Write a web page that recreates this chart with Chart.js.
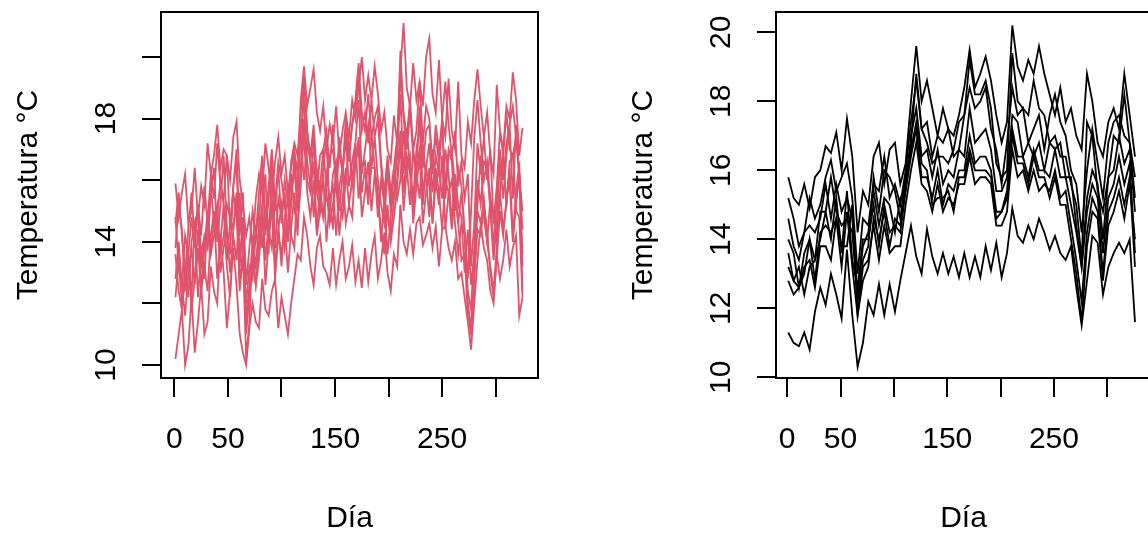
<!DOCTYPE html>
<html>
<head>
<meta charset="utf-8">
<script src="https://cdn.jsdelivr.net/npm/chart.js@4.4.1/dist/chart.umd.min.js"></script>
<style>
html,body{margin:0;padding:0;overflow:hidden;background:#fff;width:1148px;height:534px;}
canvas{position:absolute;top:0;}
#c1{left:0;}
#c2{left:574px;}
</style>
</head>
<body>
<canvas id="c1" width="574" height="534"></canvas>
<canvas id="c2" width="600" height="534"></canvas>
<script>
// ---- categories: days (left panel, raw series) ----
const daysRaw = [1,4,7,10,13,16,19,22,25,28,
  31,34,37,40,43,46,49,52,55,58,
  61,64,67,70,73,76,79,82,85,88,
  91,94,97,100,103,106,109,112,115,118,
  121,124,127,130,133,136,139,142,145,148,
  151,154,157,160,163,166,169,172,175,178,
  181,184,187,190,193,196,199,202,205,208,
  211,214,217,220,223,226,229,232,235,238,
  241,244,247,250,253,256,259,262,265,268,
  271,274,277,280,283,286,289,292,295,298,
  301,304,307,310,313,316,319,322,325];

// ---- categories: days (right panel, smoothed series) ----
const daysSm = [1,6,11,16,21,26,31,36,41,46,
  51,56,61,66,71,76,81,86,91,96,
  101,106,111,116,121,126,131,136,141,146,
  151,156,161,166,171,176,181,186,191,196,
  201,206,211,216,221,226,231,236,241,246,
  251,256,261,266,271,276,281,286,291,296,
  301,306,311,316,321,326];

// ---- left panel: raw temperatures (°C) ----
const rawA = [15.9,14.8,15.6,16.2,14.6,15.0,16.4,14.8,15.8,15.2,
  17.2,16.2,16.8,17.8,16.4,17.0,16.8,16.0,17.4,17.9,
  16.0,15.2,14.2,14.8,13.8,15.4,16.2,15.6,17.2,16.4,
  15.4,16.6,17.4,16.2,16.8,15.6,16.4,17.0,16.2,18.6,
  19.7,18.4,19.0,19.6,18.2,17.6,18.4,17.0,17.8,17.2,
  18.4,16.8,17.6,18.2,17.4,18.6,18.0,19.0,20.0,18.6,
  19.4,18.6,19.7,18.8,17.6,18.2,17.0,16.6,18.1,17.2,
  19.6,21.1,19.0,18.4,19.8,18.6,19.2,18.4,20.0,20.6,
  18.8,18.2,19.9,18.0,17.4,19.3,17.6,17.0,19.2,16.8,
  16.4,17.9,17.2,18.6,19.6,18.4,17.4,18.2,16.8,16.2,
  19.1,17.6,17.0,18.4,18.0,19.5,18.6,16.8,17.7];
const rawB = [14.6,15.6,14.2,13.0,14.4,15.6,14.0,15.2,14.2,15.8,
  14.6,16.2,15.4,17.2,15.8,15.4,16.8,14.4,15.8,17.0,
  14.2,15.6,12.6,13.8,15.0,14.2,15.6,16.8,14.6,15.8,
  17.0,15.0,16.4,14.6,16.0,15.2,16.6,17.2,16.8,18.2,
  19.4,17.6,16.8,17.8,16.2,15.8,17.0,17.6,16.4,17.8,
  15.6,17.0,16.2,17.6,16.6,17.8,18.4,19.4,17.6,18.2,
  17.2,18.6,17.4,18.0,16.4,15.4,16.8,15.6,16.4,17.4,
  19.4,18.0,17.0,18.2,16.8,16.2,18.4,16.4,17.6,17.8,
  16.6,17.4,16.6,18.0,19.2,17.8,16.8,17.6,15.8,16.6,
  15.4,16.2,13.2,14.6,17.2,16.2,17.4,16.0,17.0,14.6,
  15.8,17.6,16.8,18.2,17.0,16.8,17.4,16.2,15.0];
const rawC = [13.8,15.2,14.4,12.4,13.6,14.8,13.8,15.2,13.6,14.2,
  13.8,15.6,16.4,14.0,15.2,16.8,14.4,13.6,15.8,16.6,
  13.4,14.8,11.0,12.4,13.6,14.4,13.6,15.2,16.2,13.6,
  16.6,13.8,15.4,14.8,15.6,14.0,15.2,16.8,15.4,17.6,
  18.6,16.6,15.8,17.2,15.6,15.0,16.4,17.4,14.8,16.2,
  16.6,15.0,16.2,17.4,15.8,16.6,17.2,18.6,16.2,17.0,
  17.8,16.4,17.4,16.0,15.2,14.6,16.4,15.0,15.6,16.8,
  18.8,16.2,17.6,16.4,15.4,17.0,17.8,15.6,16.4,17.2,
  15.6,16.8,16.2,18.0,15.4,16.8,17.0,15.8,14.6,15.6,
  14.2,12.4,11.8,13.8,16.0,15.2,16.6,16.4,15.0,13.4,
  14.6,16.6,15.4,16.8,17.8,15.4,17.8,16.2,13.6];
const rawD = [14.8,13.2,12.6,14.2,13.6,12.2,14.6,15.0,12.4,13.8,
  15.0,13.8,14.6,15.2,13.6,14.2,15.2,14.8,14.4,15.6,
  12.6,13.8,12.0,13.2,12.8,14.2,15.0,13.8,15.0,14.4,
  13.8,15.4,14.6,13.2,14.8,15.4,14.2,13.8,16.2,17.4,
  16.0,17.2,16.6,14.8,16.4,15.2,14.8,16.2,15.4,14.4,
  16.6,15.2,14.8,16.0,17.2,15.8,16.6,17.4,15.6,16.4,
  15.2,17.6,16.4,14.8,16.0,15.2,13.6,14.8,16.4,15.4,
  16.0,17.6,16.4,15.2,17.0,16.2,15.4,17.2,16.0,14.8,
  17.0,15.8,16.4,15.4,17.0,16.2,14.6,16.2,15.2,14.8,
  13.0,14.4,12.6,13.6,15.2,16.8,14.8,14.0,15.4,14.8,
  14.0,15.6,16.8,15.2,16.6,16.8,15.0,14.8,12.2];
const rawE = [12.8,14.0,12.6,11.6,13.0,13.8,12.6,13.8,12.4,13.2,
  12.4,14.2,15.0,12.8,14.0,15.2,13.2,12.2,14.4,15.4,
  12.4,13.6,10.2,11.4,13.8,12.6,13.4,15.0,12.6,14.0,
  15.2,12.8,14.2,13.6,14.6,13.0,14.4,15.6,14.2,16.4,
  17.4,15.6,14.8,16.0,14.2,15.0,16.2,14.0,15.4,15.8,
  14.2,15.8,16.4,14.6,15.2,14.8,16.6,17.0,14.8,15.6,
  16.6,15.0,16.2,15.4,14.4,13.6,15.2,14.0,14.8,15.8,
  17.2,15.0,16.4,16.8,14.6,15.8,16.8,14.6,15.6,16.4,
  14.6,16.0,15.2,16.8,14.4,15.6,16.0,14.6,13.6,14.6,
  14.2,12.0,11.2,12.8,15.0,14.6,15.4,14.0,13.2,12.4,
  13.8,15.6,14.4,15.2,16.4,14.2,15.6,16.6,12.4];
const rawF = [12.2,13.4,12.0,12.6,13.6,11.8,12.8,14.4,13.2,14.0,
  13.8,15.8,14.6,14.8,16.0,15.2,13.4,14.6,15.6,14.8,
  13.2,14.6,11.4,12.6,14.0,13.2,14.6,16.4,14.2,15.4,
  16.8,15.2,16.6,16.0,15.2,14.0,15.4,16.4,15.0,16.2,
  19.4,17.6,16.6,17.6,15.6,16.8,17.0,15.8,16.8,17.0,
  16.0,17.4,16.2,18.0,17.0,17.8,18.6,19.8,18.2,17.6,
  18.8,17.4,18.0,18.4,16.6,15.6,16.6,15.4,16.2,17.0,
  20.2,18.2,17.4,18.6,17.0,17.6,19.2,17.2,18.4,18.0,
  16.2,17.8,17.0,17.8,15.8,17.0,16.6,15.0,16.4,15.8,
  14.4,12.8,15.0,17.4,18.6,17.2,16.0,16.6,15.4,13.8,
  15.4,17.0,16.0,17.2,17.8,18.4,17.4,16.2,14.4];
const rawG = [13.6,12.4,11.8,13.2,12.2,14.0,14.6,12.2,13.6,12.8,
  14.8,13.6,14.2,14.8,13.0,13.8,14.4,13.0,14.2,13.4,
  15.6,13.8,11.2,12.2,13.4,12.6,14.0,15.2,13.4,14.6,
  15.4,13.2,14.4,15.2,13.8,14.6,16.2,15.0,14.6,15.8,
  18.0,16.0,15.6,16.6,14.4,15.8,14.8,15.6,14.6,15.2,
  16.0,14.2,15.4,16.4,15.2,16.0,17.2,15.4,16.4,16.6,
  15.4,16.4,16.4,15.6,14.0,15.4,14.8,14.2,15.4,16.0,
  17.6,15.6,16.8,16.2,15.0,16.4,17.0,15.2,16.4,15.8,
  14.6,16.4,15.6,14.4,16.0,15.6,14.4,15.6,14.6,13.4,
  13.6,11.6,11.0,12.8,14.4,14.2,15.2,14.4,13.0,12.2,
  13.4,15.0,14.2,15.4,16.0,14.0,15.2,16.2,13.2];
const rawH = [10.2,11.0,11.8,10.0,10.6,12.2,10.4,11.4,12.6,11.0,
  11.4,13.2,12.4,12.0,14.2,13.0,11.2,12.4,13.8,12.6,
  11.0,10.4,10.0,11.2,12.0,11.4,11.2,12.8,11.8,11.6,
  12.4,12.8,11.2,12.2,11.6,11.0,12.0,12.8,13.6,13.4,
  14.8,14.2,13.2,12.6,13.8,14.2,13.2,13.0,12.6,13.8,
  12.6,13.4,14.0,12.8,13.2,13.9,12.7,13.4,12.5,13.8,
  12.7,13.6,14.2,12.8,13.4,14.3,13.0,12.4,13.6,13.2,
  15.2,14.0,13.6,14.4,13.6,14.6,14.8,13.9,14.2,14.6,
  13.8,14.5,13.2,14.4,14.5,13.8,13.4,14.0,12.8,13.0,
  12.2,11.4,10.5,12.0,13.4,14.6,13.8,13.4,12.4,12.0,
  13.6,12.8,13.4,14.4,13.2,13.8,14.2,11.6,12.2];

// ---- right panel: smoothed temperatures (°C) ----
const smA = [15.8,15.2,15.0,15.6,14.9,15.8,16.0,16.7,16.5,17.1,
  16.0,17.5,16.4,14.2,15.4,15.0,16.4,16.8,15.6,16.6,
  16.8,15.6,16.2,18.0,19.6,18.0,18.6,17.8,17.0,17.8,
  17.2,17.0,17.6,18.4,19.5,18.4,18.8,19.3,18.6,17.6,
  16.8,17.4,20.2,19.0,18.6,19.2,18.8,19.6,18.8,18.2,
  17.6,18.4,17.4,17.8,17.0,16.6,18.8,18.0,16.8,16.4,
  17.4,17.8,17.2,18.8,17.6,16.4];
const smB = [15.2,14.6,13.8,14.2,15.2,14.6,15.0,15.8,16.3,15.4,
  15.8,16.2,15.2,13.0,14.6,14.4,15.6,15.4,16.4,15.2,
  15.6,15.0,16.0,17.4,18.6,17.2,17.4,16.4,17.0,16.8,
  17.2,16.4,16.6,17.6,18.4,17.8,18.0,18.4,17.2,16.6,
  15.6,16.8,18.4,17.6,17.8,16.8,17.2,17.6,16.6,17.6,
  18.2,17.4,17.0,16.0,15.6,14.2,16.0,17.2,16.2,15.2,
  16.8,17.4,17.6,17.0,16.8,15.8];
const smC = [14.6,13.8,13.4,14.2,14.4,14.2,14.6,15.6,14.6,15.6,
  14.8,15.2,14.6,12.4,13.8,14.2,15.4,14.4,15.2,15.0,
  14.2,15.2,15.4,17.0,17.8,16.4,16.6,15.8,16.6,15.6,
  16.0,15.8,16.6,16.4,17.8,16.8,17.0,17.2,16.6,15.4,
  15.4,15.8,17.6,17.4,16.4,16.8,16.4,16.8,16.0,16.8,
  16.6,16.8,15.8,15.8,14.4,13.2,15.2,16.0,15.6,14.0,
  15.8,16.0,17.0,16.2,16.6,14.8];
const smD = [14.0,13.6,12.6,13.6,14.0,13.4,14.0,14.8,14.0,15.2,
  13.6,15.4,13.4,12.6,14.0,14.0,15.0,13.8,15.0,14.2,
  14.4,14.2,15.4,16.4,17.2,15.8,15.8,15.2,16.0,15.0,
  15.6,15.4,16.0,16.0,17.0,16.2,16.4,16.4,16.0,14.8,
  14.8,15.2,17.2,16.4,16.4,15.8,16.6,16.0,16.0,15.8,
  16.6,15.8,15.8,15.0,14.2,13.2,14.8,15.6,15.2,13.6,
  15.2,15.6,16.4,15.6,16.2,13.6];
const smE = [13.6,12.8,12.6,13.2,13.4,12.6,13.8,13.8,13.4,14.6,
  13.2,14.8,13.2,11.8,13.2,13.4,14.4,13.4,14.4,13.6,
  13.8,13.8,15.0,16.0,16.8,15.6,15.4,14.8,15.6,14.8,
  15.2,15.0,15.6,15.6,16.4,15.6,15.8,15.8,15.6,14.4,
  14.4,14.8,16.6,15.8,16.0,15.4,16.0,15.4,15.6,15.4,
  16.0,15.2,15.4,14.4,13.4,12.2,14.2,15.2,14.8,13.0,
  14.8,15.2,15.8,15.0,15.8,13.2];
const smF = [13.2,12.8,13.2,12.4,13.2,13.4,14.8,14.8,15.8,14.8,
  14.4,14.6,14.2,12.2,13.4,13.8,15.8,14.8,16.0,15.8,
  15.4,14.6,15.8,16.8,18.8,17.2,16.8,16.2,16.4,16.4,
  16.2,16.6,17.4,17.6,19.2,18.2,18.2,18.6,17.8,16.2,
  15.8,16.0,19.4,18.0,17.8,17.6,18.6,17.8,17.6,16.8,
  17.0,16.4,16.4,15.6,15.0,13.4,17.4,17.0,15.4,14.8,
  15.8,17.0,16.8,18.2,16.8,15.2];
const smG = [12.8,12.4,12.6,13.0,14.0,12.8,14.2,14.4,14.2,14.6,
  13.8,13.8,15.0,11.8,12.8,13.2,14.6,14.0,14.8,13.8,
  14.6,14.4,15.6,16.6,17.4,16.2,16.0,15.0,15.2,15.2,
  15.4,14.8,15.8,15.8,16.6,16.0,16.0,16.0,15.8,14.6,
  14.8,15.4,17.0,16.2,16.2,15.6,16.4,15.8,15.8,15.2,
  15.8,15.0,15.0,14.0,13.0,11.6,13.8,14.8,14.6,12.8,
  14.4,14.8,15.4,14.6,15.6,14.0];
const smH = [11.3,11.0,10.9,11.3,10.8,11.9,12.6,12.1,13.0,12.4,
  11.7,13.7,11.8,10.3,11.0,12.2,11.8,12.7,11.8,12.7,
  11.9,12.8,13.6,14.4,13.5,13.0,14.3,13.5,13.0,13.6,
  13.0,13.5,12.9,13.6,12.9,13.5,12.9,13.8,13.1,13.9,
  12.9,13.6,14.9,14.1,13.9,14.4,14.0,14.6,14.2,13.7,
  14.1,13.6,13.4,13.8,12.6,11.5,12.8,14.1,13.9,12.4,
  13.2,13.6,13.9,13.6,14.0,11.6];

// ---- tick values / labels ----
const xTickVals = [0,50,100,150,200,250,300];
const xTickLabels = ['0','50','','150','','250',''];
const yTickVals = [10,12,14,16,18,20];
const yLeftLabels = ['10','','14','','18',''];
const yRightLabels = ['10','12','14','16','18','20'];
const xTitle = 'Día';
const yTitle = 'Temperatura °C';

const FONT = '30px "Liberation Sans", Arial, sans-serif';

const rAxes = {
  id: 'rAxes',
  afterDraw(chart, args, o) {
    const {ctx, chartArea: a, scales: {x, y}} = chart;
    ctx.save();
    ctx.strokeStyle = '#000';
    ctx.lineWidth = 2;
    ctx.strokeRect(a.left, a.top, a.right - a.left, a.bottom - a.top);
    ctx.beginPath();
    o.xTicks.forEach(v => {
      const px = Math.round(x.getPixelForValue(v));
      ctx.moveTo(px, a.bottom); ctx.lineTo(px, a.bottom + 19);
    });
    o.yTicks.forEach(v => {
      const py = Math.round(y.getPixelForValue(v));
      ctx.moveTo(a.left, py); ctx.lineTo(a.left - 19, py);
    });
    ctx.stroke();
    ctx.fillStyle = '#000';
    ctx.font = FONT;
    ctx.textAlign = 'center';
    ctx.textBaseline = 'alphabetic';
    o.xTicks.forEach((v, i) => {
      if (o.xLabels[i]) ctx.fillText(o.xLabels[i], x.getPixelForValue(v), a.bottom + 70);
    });
    ctx.fillText(o.xTitle, (a.left + a.right) / 2, a.bottom + 149);
    o.yTicks.forEach((v, i) => {
      if (!o.yLabels[i]) return;
      ctx.save();
      ctx.translate(a.left - 46, y.getPixelForValue(v));
      ctx.rotate(-Math.PI / 2);
      ctx.fillText(o.yLabels[i], 0, 0);
      ctx.restore();
    });
    ctx.save();
    ctx.translate(a.left - 124.5, (a.top + a.bottom) / 2);
    ctx.rotate(-Math.PI / 2);
    ctx.fillText(o.yTitle, 0, 0);
    ctx.restore();
    ctx.restore();
  }
};

function mk(dayArr, series, color, lw) {
  return series.map(s => ({
    data: dayArr.map((d, i) => ({x: d, y: s[i]})),
    borderColor: color,
    borderWidth: lw,
    pointRadius: 0,
    tension: 0,
    fill: false
  }));
}

function build(id, dayArr, series, color, lw, xr, yr, pad, yLabels) {
  return new Chart(document.getElementById(id), {
    type: 'line',
    data: {datasets: mk(dayArr, series, color, lw)},
    options: {
      responsive: false,
      animation: false,
      devicePixelRatio: 1,
      layout: {padding: pad},
      scales: {
        x: {type: 'linear', min: xr[0], max: xr[1], display: false},
        y: {type: 'linear', min: yr[0], max: yr[1], display: false}
      },
      plugins: {
        legend: {display: false},
        tooltip: {enabled: false},
        rAxes: {xTicks: xTickVals, xLabels: xTickLabels, yTicks: yTickVals, yLabels: yLabels, xTitle: xTitle, yTitle: yTitle}
      }
    },
    plugins: [rAxes]
  });
}

build('c1', daysRaw, [rawA, rawB, rawC, rawD, rawE, rawF, rawG, rawH], '#DF536B', 1.8,
  [-12.5, 339.5], [9.58, 21.46], {left: 161, right: 36, top: 12, bottom: 156}, yLeftLabels);
build('c2', daysSm, [smA, smB, smC, smD, smE, smF, smG, smH], '#000000', 1.8,
  [-10.5, 341], [9.98, 20.59], {left: 202, right: 23, top: 12, bottom: 156}, yRightLabels);
</script>
</body>
</html>
